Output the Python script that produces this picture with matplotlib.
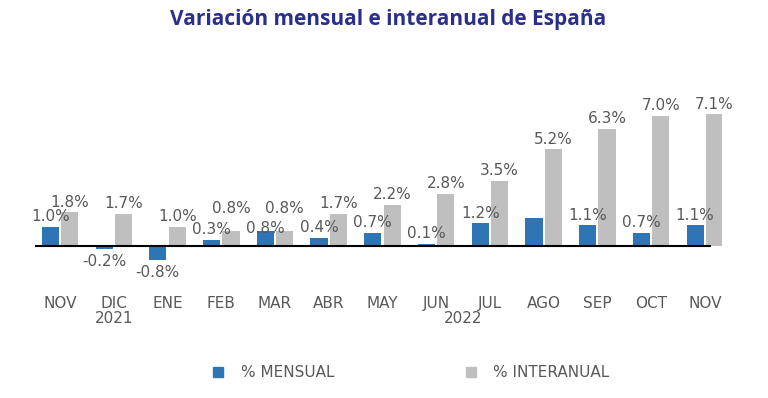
import matplotlib
matplotlib.use("Agg")
import matplotlib.pyplot as plt
from matplotlib.lines import Line2D
import numpy as np

plt.rcParams['font.family'] = ['DejaVu Sans']

meses = ["NOV", "DIC", "ENE", "FEB", "MAR", "ABR", "MAY", "JUN", "JUL", "AGO", "SEP", "OCT", "NOV"]
mensual = [1.0, -0.2, -0.8, 0.3, 0.8, 0.4, 0.7, 0.1, 1.2, 1.5, 1.1, 0.7, 1.1]
interanual = [1.8, 1.7, 1.0, 0.8, 0.8, 1.7, 2.2, 2.8, 3.5, 5.2, 6.3, 7.0, 7.1]
etiqueta_mensual = [True] * 9 + [False] + [True] * 3  # AGO sin etiqueta en el original

azul = '#2E75B6'
gris = '#BFBFBF'
texto = '#595959'
fs = 11

# desplazamientos extra de algunas etiquetas (en puntos), como en el original
extra_azul = {4: -6}
extra_gris = {3: 9, 4: 9}

fig = plt.figure(figsize=(7.68, 3.98), dpi=100, facecolor='white')
ax = fig.add_axes([35 / 768, 0.313, 687 / 768, 0.4416])

x = np.arange(len(meses))
ancho = 0.32
b1 = ax.bar(x - 0.18, mensual, ancho, color=azul)
b2 = ax.bar(x + 0.18, interanual, ancho, color=gris)

for i, (rect, v, show) in enumerate(zip(b1, mensual, etiqueta_mensual)):
    if not show:
        continue
    cx = rect.get_x() + rect.get_width() / 2
    if v >= 0:
        ax.annotate(f"{v:.1f}%", (cx, v), xytext=(0, 2 + extra_azul.get(i, 0)), textcoords='offset points',
                    ha='center', va='bottom', fontsize=fs, color=texto)
    else:
        ax.annotate(f"{v:.1f}%", (cx, v), xytext=(0, -3), textcoords='offset points',
                    ha='center', va='top', fontsize=fs, color=texto)

for i, (rect, v) in enumerate(zip(b2, interanual)):
    cx = rect.get_x() + rect.get_width() / 2
    ax.annotate(f"{v:.1f}%", (cx, v), xytext=(0, 2 + extra_gris.get(i, 0)), textcoords='offset points',
                ha='center', va='bottom', fontsize=fs, color=texto)

ax.axhline(0, xmin=0, xmax=0.982, color='black', lw=1.5)
ax.set_xlim(-0.467, 12.32)
ax.set_ylim(-1.5, 8)
ax.set_xticks(x, meses)
ax.tick_params(axis='x', length=0, pad=16, labelsize=fs, labelcolor=texto)
ax.set_yticks([])
for s in ax.spines.values():
    s.set_visible(False)

ax.text(1, -3.95, "2021", ha='center', va='center', fontsize=fs, color=texto)
ax.text(7.5, -3.95, "2022", ha='center', va='center', fontsize=fs, color=texto)

fig.text(0.506, 0.952, "Variación mensual e interanual de España", ha='center', va='center',
         fontsize=15, fontweight='bold', color='#2A2E8C', family='Open Sans')

handles = [Line2D([], [], marker='s', ls='', color=azul, markersize=6.5),
           Line2D([], [], marker='s', ls='', color=gris, markersize=6.5)]
fig.legend(handles, ["% MENSUAL", "% INTERANUAL"], loc='center', bbox_to_anchor=(0.535, 0.063),
           ncol=2, frameon=False, handlelength=0.8, columnspacing=8.5, handletextpad=1.1,
           fontsize=fs, labelcolor=texto)

fig.savefig("out.png", dpi=100)
